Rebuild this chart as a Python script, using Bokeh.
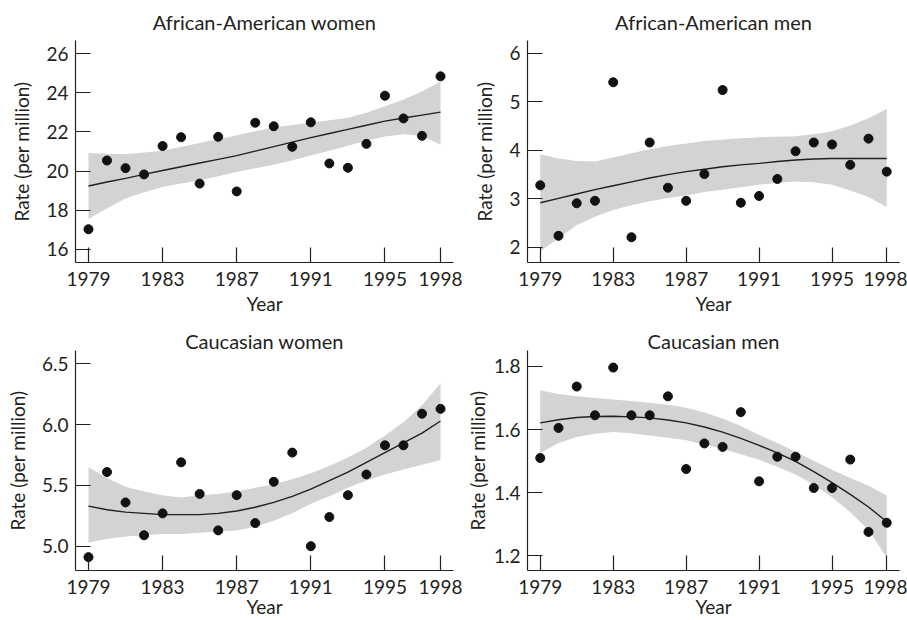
from bokeh.plotting import figure
from bokeh.layouts import gridplot
from bokeh.models import FixedTicker, Range1d
from bokeh.embed import file_html
from bokeh.resources import INLINE

years = list(range(1979, 1999))
tick_years = [1979, 1983, 1987, 1991, 1995, 1998]

# African-American women
aaw_rate = [17.03, 20.54, 20.15, 19.83, 21.28, 21.73, 19.36, 21.75, 18.96, 22.47,
            22.29, 21.24, 22.49, 20.39, 20.17, 21.39, 23.85, 22.69, 21.80, 24.84]
aaw_fit = [19.24, 19.44, 19.63, 19.83, 20.03, 20.22, 20.41, 20.60, 20.79, 21.02,
           21.25, 21.48, 21.71, 21.92, 22.13, 22.34, 22.55, 22.71, 22.86, 23.01]
aaw_upper = [20.91, 20.88, 20.86, 20.95, 21.04, 21.24, 21.43, 21.63, 21.83, 22.03,
             22.22, 22.35, 22.47, 22.60, 22.72, 22.98, 23.31, 23.65, 24.07, 24.57]
aaw_lower = [17.55, 18.10, 18.60, 18.92, 19.19, 19.36, 19.53, 19.74, 19.95, 20.14,
             20.32, 20.55, 20.79, 21.04, 21.29, 21.55, 21.76, 21.88, 21.80, 21.34]

# African-American men
aam_rate = [3.28, 2.24, 2.91, 2.96, 5.40, 2.21, 4.16, 3.23, 2.96, 3.51,
            5.24, 2.92, 3.06, 3.41, 3.98, 4.16, 4.12, 3.70, 4.24, 3.56]
aam_fit = [2.92, 3.01, 3.10, 3.19, 3.27, 3.35, 3.43, 3.50, 3.56, 3.61,
           3.66, 3.70, 3.73, 3.77, 3.80, 3.82, 3.83, 3.83, 3.83, 3.83]
aam_upper = [3.92, 3.83, 3.78, 3.77, 3.85, 3.94, 4.02, 4.09, 4.14, 4.19,
             4.22, 4.25, 4.27, 4.28, 4.29, 4.33, 4.39, 4.51, 4.66, 4.85]
aam_lower = [1.92, 2.19, 2.46, 2.63, 2.77, 2.87, 2.95, 3.02, 3.07, 3.14,
             3.19, 3.24, 3.29, 3.33, 3.36, 3.34, 3.29, 3.17, 3.04, 2.83]

# Caucasian women
cw_rate = [4.91, 5.61, 5.36, 5.09, 5.27, 5.69, 5.43, 5.13, 5.42, 5.19,
           5.53, 5.77, 5.00, 5.24, 5.42, 5.59, 5.83, 5.83, 6.09, 6.13]
cw_fit = [5.33, 5.30, 5.28, 5.27, 5.26, 5.26, 5.26, 5.27, 5.29, 5.32,
          5.36, 5.41, 5.47, 5.54, 5.61, 5.69, 5.77, 5.85, 5.93, 6.03]
cw_upper = [5.65, 5.56, 5.49, 5.45, 5.42, 5.40, 5.42, 5.43, 5.45, 5.48,
            5.51, 5.55, 5.60, 5.66, 5.73, 5.81, 5.91, 6.02, 6.16, 6.34]
cw_lower = [5.03, 5.06, 5.08, 5.09, 5.10, 5.10, 5.11, 5.12, 5.13, 5.16,
            5.21, 5.27, 5.35, 5.41, 5.48, 5.54, 5.59, 5.63, 5.67, 5.71]

# Caucasian men
cm_rate = [1.51, 1.605, 1.736, 1.645, 1.796, 1.645, 1.645, 1.705, 1.475, 1.556,
           1.545, 1.655, 1.436, 1.514, 1.514, 1.415, 1.415, 1.505, 1.276, 1.305]
cm_fit = [1.621, 1.631, 1.638, 1.641, 1.642, 1.640, 1.637, 1.630, 1.621, 1.608,
          1.592, 1.572, 1.550, 1.526, 1.499, 1.467, 1.432, 1.395, 1.355, 1.308]
cm_upper = [1.724, 1.712, 1.705, 1.700, 1.695, 1.690, 1.685, 1.678, 1.669, 1.654,
            1.635, 1.611, 1.583, 1.557, 1.530, 1.501, 1.473, 1.447, 1.422, 1.391]
cm_lower = [1.525, 1.557, 1.576, 1.587, 1.592, 1.588, 1.581, 1.574, 1.566, 1.553,
            1.538, 1.522, 1.504, 1.482, 1.458, 1.425, 1.386, 1.338, 1.282, 1.195]

FONT = "Lato"
BAND = "#d1d3d4"
INK = "#231f20"


def panel(title, rate, fit, upper, lower, yr, yticks, ylabels, w, h,
          bl, br, bt, bb, tstand, xtick_standoff, xlab_standoff, ylab_standoff):
    p = figure(width=w, height=h, output_backend="svg", toolbar_location=None,
               x_range=Range1d(1978.3, 1998.7), y_range=Range1d(*yr),
               min_border_left=bl, min_border_right=br,
               min_border_top=bt, min_border_bottom=bb,
               title=title)
    p.outline_line_color = None
    p.grid.visible = False
    p.title.text_font = FONT
    p.title.text_font_style = "normal"
    p.title.text_font_size = "20px"
    p.title.align = "center"
    p.title.text_color = INK
    p.title.standoff = tstand
    p.varea(x=years, y1=lower, y2=upper, fill_color=BAND, fill_alpha=1.0)
    p.line(x=years, y=fit, line_color=INK, line_width=1.4)
    p.scatter(x=years, y=rate, size=9, fill_color="#111111", line_color="#111111")
    for ax in (p.xaxis[0], p.yaxis[0]):
        ax.axis_line_color = INK
        ax.axis_line_width = 1.2
        ax.major_tick_line_color = INK
        ax.major_tick_line_width = 1.2
        ax.major_tick_in = 15
        ax.major_tick_out = 0
        ax.minor_tick_line_color = None
        ax.major_label_text_font = FONT
        ax.major_label_text_font_size = "19px"
        ax.major_label_text_color = INK
        ax.axis_label_text_font = FONT
        ax.axis_label_text_font_size = "19px"
        ax.axis_label_text_font_style = "normal"
        ax.axis_label_text_color = INK
    p.xaxis.ticker = FixedTicker(ticks=tick_years)
    p.xaxis.axis_label = "Year"
    p.xaxis.major_label_standoff = xtick_standoff
    p.xaxis.axis_label_standoff = xlab_standoff
    p.yaxis.ticker = FixedTicker(ticks=yticks)
    p.yaxis.major_label_overrides = {t: l for t, l in zip(yticks, ylabels)}
    p.yaxis.axis_label = "Rate (per million)"
    p.yaxis.major_label_standoff = 7
    p.yaxis.axis_label_standoff = ylab_standoff
    return p


p1 = panel("African-American women", aaw_rate, aaw_fit, aaw_upper, aaw_lower,
           (15.33, 26.67), [16, 18, 20, 22, 24, 26], ["16", "18", "20", "22", "24", "26"],
           462, 317, 74, 9, 40, 52, 14, 9, 3, 10)
p2 = panel("African-American men", aam_rate, aam_fit, aam_upper, aam_lower,
           (1.69, 6.26), [2, 3, 4, 5, 6], ["2", "3", "4", "5", "6"],
           445, 317, 64, 8, 40, 52, 14, 9, 3, 10)
p3 = panel("Caucasian women", cw_rate, cw_fit, cw_upper, cw_lower,
           (4.80, 6.61), [5.0, 5.5, 6.0, 6.5], ["5.0", "5.5", "6.0", "6.5"],
           462, 303, 75, 9, 33, 47, -4, 9, -2, 10)
p4 = panel("Caucasian men", cm_rate, cm_fit, cm_upper, cm_lower,
           (1.154, 1.85), [1.2, 1.4, 1.6, 1.8], ["1.2", "1.4", "1.6", "1.8"],
           445, 303, 64, 8, 33, 47, -4, 9, -2, 2)

grid = gridplot([[p1, p2], [p3, p4]], toolbar_location=None)

open("out.html", "w").write(file_html(grid, INLINE))
